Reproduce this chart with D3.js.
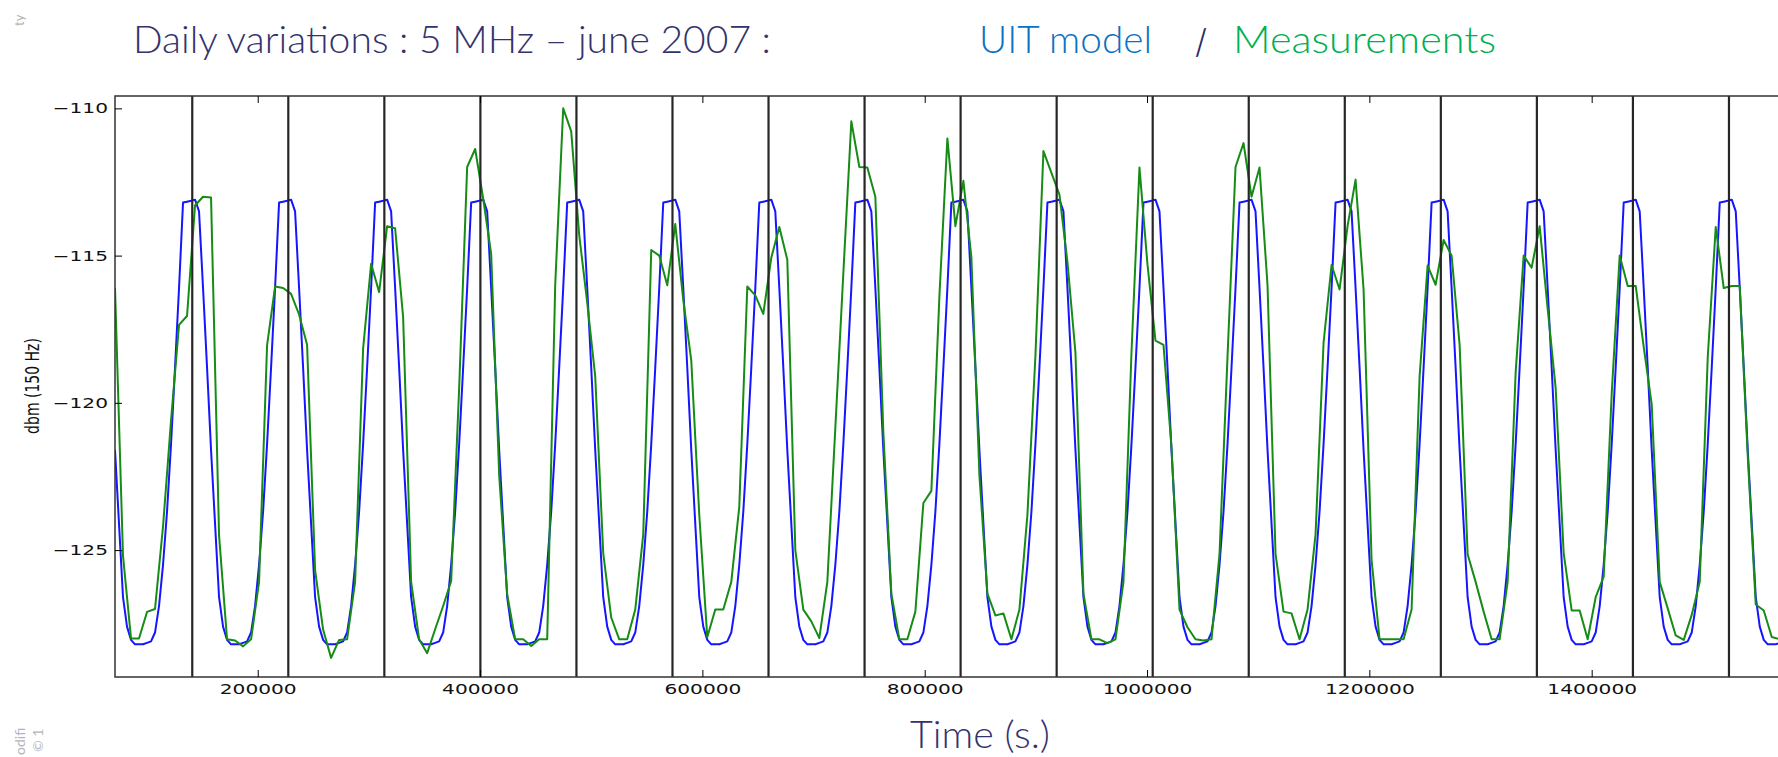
<!DOCTYPE html>
<html><head><meta charset="utf-8">
<script src="https://cdn.jsdelivr.net/npm/d3@7"></script>
<style>html,body{margin:0;padding:0;background:#fff;overflow:hidden}</style>
</head><body>
<svg id="chart" width="1778" height="757"></svg>
<script>
// ---- data ----
const startTime = 71600;      // s, first sample
const modelStep = 3600;       // model: hourly
const measStep = 7200;        // measurements: every 2 h

const dayLines = [141100, 227500, 313900, 400300, 486700, 573100, 659500, 745900, 832300,
  918700, 1005100, 1091500, 1177900, 1264300, 1350700, 1437100, 1523500];
const xTicks = [200000, 400000, 600000, 800000, 1000000, 1200000, 1400000];
const yTicks = [-125, -120, -115, -110];

// UIT model (hourly), one row per day
const modelValues = [
  -121.6,-124.1,-126.6,-127.6,-128.05,-128.2,-128.2,-128.2,-128.15,-128.1,-127.8,-126.9,-125.5,-123.7,-121.4,-118.8,-116.1,-113.2,-113.17,-113.14,-113.1,-113.5,-116.1,-118.8,
  -121.6,-124.1,-126.6,-127.6,-128.05,-128.2,-128.2,-128.2,-128.15,-128.1,-127.8,-126.9,-125.5,-123.7,-121.4,-118.8,-116.1,-113.2,-113.17,-113.14,-113.1,-113.5,-116.1,-118.8,
  -121.6,-124.1,-126.6,-127.6,-128.05,-128.2,-128.2,-128.2,-128.15,-128.1,-127.8,-126.9,-125.5,-123.7,-121.4,-118.8,-116.1,-113.2,-113.17,-113.14,-113.1,-113.5,-116.1,-118.8,
  -121.6,-124.1,-126.6,-127.6,-128.05,-128.2,-128.2,-128.2,-128.15,-128.1,-127.8,-126.9,-125.5,-123.7,-121.4,-118.8,-116.1,-113.2,-113.17,-113.14,-113.1,-113.5,-116.1,-118.8,
  -121.6,-124.1,-126.6,-127.6,-128.05,-128.2,-128.2,-128.2,-128.15,-128.1,-127.8,-126.9,-125.5,-123.7,-121.4,-118.8,-116.1,-113.2,-113.17,-113.14,-113.1,-113.5,-116.1,-118.8,
  -121.6,-124.1,-126.6,-127.6,-128.05,-128.2,-128.2,-128.2,-128.15,-128.1,-127.8,-126.9,-125.5,-123.7,-121.4,-118.8,-116.1,-113.2,-113.17,-113.14,-113.1,-113.5,-116.1,-118.8,
  -121.6,-124.1,-126.6,-127.6,-128.05,-128.2,-128.2,-128.2,-128.15,-128.1,-127.8,-126.9,-125.5,-123.7,-121.4,-118.8,-116.1,-113.2,-113.17,-113.14,-113.1,-113.5,-116.1,-118.8,
  -121.6,-124.1,-126.6,-127.6,-128.05,-128.2,-128.2,-128.2,-128.15,-128.1,-127.8,-126.9,-125.5,-123.7,-121.4,-118.8,-116.1,-113.2,-113.17,-113.14,-113.1,-113.5,-116.1,-118.8,
  -121.6,-124.1,-126.6,-127.6,-128.05,-128.2,-128.2,-128.2,-128.15,-128.1,-127.8,-126.9,-125.5,-123.7,-121.4,-118.8,-116.1,-113.2,-113.17,-113.14,-113.1,-113.5,-116.1,-118.8,
  -121.6,-124.1,-126.6,-127.6,-128.05,-128.2,-128.2,-128.2,-128.15,-128.1,-127.8,-126.9,-125.5,-123.7,-121.4,-118.8,-116.1,-113.2,-113.17,-113.14,-113.1,-113.5,-116.1,-118.8,
  -121.6,-124.1,-126.6,-127.6,-128.05,-128.2,-128.2,-128.2,-128.15,-128.1,-127.8,-126.9,-125.5,-123.7,-121.4,-118.8,-116.1,-113.2,-113.17,-113.14,-113.1,-113.5,-116.1,-118.8,
  -121.6,-124.1,-126.6,-127.6,-128.05,-128.2,-128.2,-128.2,-128.15,-128.1,-127.8,-126.9,-125.5,-123.7,-121.4,-118.8,-116.1,-113.2,-113.17,-113.14,-113.1,-113.5,-116.1,-118.8,
  -121.6,-124.1,-126.6,-127.6,-128.05,-128.2,-128.2,-128.2,-128.15,-128.1,-127.8,-126.9,-125.5,-123.7,-121.4,-118.8,-116.1,-113.2,-113.17,-113.14,-113.1,-113.5,-116.1,-118.8,
  -121.6,-124.1,-126.6,-127.6,-128.05,-128.2,-128.2,-128.2,-128.15,-128.1,-127.8,-126.9,-125.5,-123.7,-121.4,-118.8,-116.1,-113.2,-113.17,-113.14,-113.1,-113.5,-116.1,-118.8,
  -121.6,-124.1,-126.6,-127.6,-128.05,-128.2,-128.2,-128.2,-128.15,-128.1,-127.8,-126.9,-125.5,-123.7,-121.4,-118.8,-116.1,-113.2,-113.17,-113.14,-113.1,-113.5,-116.1,-118.8,
  -121.6,-124.1,-126.6,-127.6,-128.05,-128.2,-128.2,-128.2,-128.15,-128.1,-127.8,-126.9,-125.5,-123.7,-121.4,-118.8,-116.1,-113.2,-113.17,-113.14,-113.1,-113.5,-116.1,-118.8,
  -121.6,-124.1,-126.6,-127.6,-128.05,-128.2,-128.2,-128.2,-128.15,-128.1,-127.8,-126.9,-125.5,-123.7,-121.4,-118.8,-116.1,-113.2,-113.17,-113.14,-113.1,-113.5,-116.1,-118.8,
  -121.6,-124.1,-126.6,-127.6,-128.05,-128.2,-128.2,-128.2,-128.15,-128.1,-127.8,-126.9,-125.5,-123.7
];

// Measurements (every 2 h)
const measuredValues = [
  -116.1,-125.2,-128.0,-128.0,-127.1,-127.0,-124.2,-120.6,-117.35,-117.05,
  -113.3,-113.0,-113.03,-124.5,-128.03,-128.07,-128.27,-128.03,-126.08,-118.05,
  -116.05,-116.1,-116.3,-117.0,-118.03,-125.68,-127.7,-128.66,-128.05,-128.03,
  -126.08,-118.16,-115.28,-116.24,-114.0,-114.07,-117.09,-126.08,-128.03,-128.5,
  -127.69,-126.9,-126.05,-119.5,-111.99,-111.38,-113.06,-114.94,-122.46,-126.5,
  -128.03,-128.03,-128.26,-128.03,-128.03,-116.0,-110.0,-110.78,-114.3,-116.6,
  -119.1,-125.1,-127.29,-128.03,-128.03,-127.02,-124.47,-114.81,-115.0,-116.01,
  -113.93,-116.5,-118.56,-123.8,-127.96,-127.02,-127.02,-126.08,-123.53,-116.05,
  -116.35,-116.98,-115.07,-114.03,-115.14,-125.0,-127.02,-127.42,-127.99,-126.08,
  -120.85,-115.6,-110.44,-111.99,-112.01,-113.0,-121.0,-126.48,-128.03,-128.03,
  -127.09,-123.4,-122.99,-116.4,-111.02,-114.0,-112.46,-115.07,-122.46,-126.48,
  -127.22,-127.15,-128.03,-127.02,-123.8,-118.4,-111.45,-112.19,-112.93,-115.21,
  -118.3,-126.48,-128.03,-128.03,-128.16,-128.03,-126.08,-118.3,-112.01,-115.3,
  -117.89,-118.03,-121.5,-127.02,-127.62,-128.03,-128.07,-128.03,-125.14,-118.43,
  -111.99,-111.18,-113.0,-112.01,-116.01,-125.14,-127.09,-127.15,-128.03,-127.02,
  -124.47,-117.96,-115.32,-116.15,-114.0,-112.42,-116.15,-125.34,-128.03,-128.03,
  -128.03,-128.03,-127.02,-119.1,-115.34,-115.99,-114.47,-115.0,-118.03,-125.14,
  -126.08,-127.09,-128.03,-128.03,-126.08,-118.97,-115.0,-115.41,-114.0,-116.8,
  -119.5,-125.1,-127.05,-127.05,-128.03,-126.6,-125.9,-119.7,-115.0,-116.03,
  -116.03,-118.1,-120.05,-126.08,-126.98,-127.9,-128.05,-127.2,-126.08,-118.45,
  -114.03,-116.1,-116.03,-116.03,-121.8,-126.85,-127.05,-127.95,-128.03
];

// ---- layout ----
const L = 115, T = 96, B = 677, R = 1800;
const svg = d3.select("#chart");
const x = d3.scaleLinear().domain([71600, 1587400]).range([L, R]);
const y = d3.scaleLinear().domain([-129.31, -109.58]).range([B, T]);
const SX = 1.44; // horizontal stretch of the original picture

svg.append("defs").append("clipPath").attr("id", "plotclip")
  .append("rect").attr("x", L).attr("y", T).attr("width", R - L).attr("height", B - T);

const plot = svg.append("g").attr("clip-path", "url(#plotclip)");

const line = d3.line().x(d => x(d.t)).y(d => y(d.v));
const modelData = modelValues.map((v, i) => ({ t: startTime + i * modelStep, v }));
const measData = measuredValues.map((v, i) => ({ t: startTime + i * measStep, v }));

plot.append("path").datum(modelData).attr("d", line)
  .attr("fill", "none").attr("stroke", "#1515ff").attr("stroke-width", 2)
  .attr("stroke-linejoin", "round");
plot.append("path").datum(measData).attr("d", line)
  .attr("fill", "none").attr("stroke", "#168c16").attr("stroke-width", 2)
  .attr("stroke-linejoin", "round");

plot.selectAll("line.day").data(dayLines).join("line").attr("class", "day")
  .attr("x1", d => x(d)).attr("x2", d => x(d)).attr("y1", T).attr("y2", B)
  .attr("stroke", "#262626").attr("stroke-width", 2.2);

// frame
svg.append("rect").attr("x", L).attr("y", T).attr("width", R - L).attr("height", B - T)
  .attr("fill", "none").attr("stroke", "#333").attr("stroke-width", 1.5);

// axes
const fmt = d3.format("d");
const gx = svg.append("g").attr("transform", `translate(0,${B})`)
  .call(d3.axisBottom(x).tickValues(xTicks).tickSizeInner(-7).tickSizeOuter(0).tickFormat(fmt));
gx.select(".domain").remove();
gx.selectAll("text").attr("y", 7).attr("dy", "0.71em")
  .attr("transform", `scale(${SX},1)`)
  .style("font-family", "'DejaVu Sans', sans-serif").style("font-size", "14px").attr("fill", "#111");

const gxt = svg.append("g").attr("transform", `translate(0,${T})`)
  .call(d3.axisTop(x).tickValues(xTicks).tickSizeInner(-7).tickSizeOuter(0).tickFormat(""));
gxt.select(".domain").remove();

const gy = svg.append("g").attr("transform", `translate(${L},0)`)
  .call(d3.axisLeft(y).tickValues(yTicks).tickSizeInner(-7).tickSizeOuter(0));
gy.select(".domain").remove();
gy.selectAll("text").attr("x", -7 / SX)
  .attr("transform", `scale(${SX},1)`)
  .style("font-family", "'DejaVu Sans', sans-serif").style("font-size", "14px").attr("fill", "#111");

// y label
svg.append("g").attr("transform", `translate(31.5,386) scale(${SX},1) rotate(-90)`)
  .append("text").attr("text-anchor", "middle").attr("dy", "0.35em")
  .style("font-family", "'DejaVu Sans', sans-serif").style("font-size", "14px")
  .attr("fill", "#111").text("dbm (150 Hz)");

// titles
const titleFont = "Lato, 'Open Sans', sans-serif";
function ttl(txt, xx, yy, len, color, weight) {
  svg.append("text").attr("x", xx).attr("y", yy).text(txt)
    .attr("textLength", len).attr("lengthAdjust", "spacingAndGlyphs")
    .style("font-family", titleFont).style("font-weight", weight || 300).style("font-size", "37px")
    .attr("fill", color);
}
ttl("Daily variations : 5 MHz \u2013 june 2007 :", 133, 53, 638, "#33336e");
ttl("UIT model", 979, 53, 173, "#0a72c2");
ttl("/", 1195, 55, 12, "#2a2a66", 400);
ttl("Measurements", 1233, 53, 263, "#00b050");
ttl("Time (s.)", 910, 748, 140, "#33336e");

// small slide artifacts (gray rotated text)
function gray(txt, xx, yy, size) {
  svg.append("text").attr("transform", `translate(${xx},${yy}) rotate(-90)`)
    .attr("text-anchor", "start").text(txt)
    .style("font-family", titleFont).style("font-size", size + "px").attr("fill", "#b5b5b5");
}
gray("ty", 24, 26, 13);
gray("odifi", 25, 755, 14);
gray("\u00a9 1", 43, 752, 14);
</script>
</body></html>
